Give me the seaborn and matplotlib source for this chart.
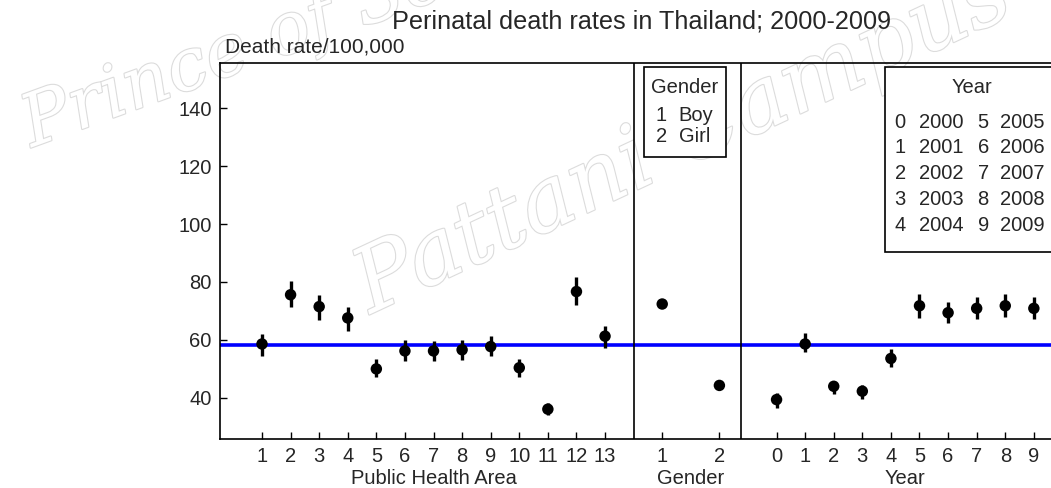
import numpy as np
import pandas as pd
import matplotlib.pyplot as plt
import seaborn as sns
import matplotlib.patheffects as pe
from matplotlib.patches import Rectangle

# estimates: rate with lower / upper bounds
area = list(range(1, 14))
area_rate = [58.6, 75.6, 71.5, 67.6, 50.0, 56.2, 56.2, 56.6, 57.7, 50.4, 36.1, 76.7, 61.3]
area_lo = [54.5, 71.2, 66.9, 63.2, 47.1, 52.8, 52.8, 53.2, 54.4, 47.1, 34.0, 72.2, 57.3]
area_hi = [62.0, 80.4, 75.6, 71.5, 53.4, 59.9, 59.5, 59.9, 61.4, 53.4, 38.3, 81.6, 64.7]

gender = [1, 2]
gender_names = ['Boy', 'Girl']
gender_rate = [72.4, 44.3]
gender_lo = [71.6, 43.5]
gender_hi = [73.2, 45.1]

year = list(range(10))
year_names = list(range(2000, 2010))
year_rate = [39.4, 58.6, 44.0, 42.3, 53.6, 71.8, 69.4, 70.9, 71.8, 70.9]
year_lo = [36.6, 55.9, 41.3, 39.7, 50.7, 67.7, 65.7, 67.1, 67.9, 67.1]
year_hi = [41.6, 62.5, 45.9, 44.3, 56.7, 75.7, 73.2, 74.7, 75.7, 74.7]

overall_rate = 58.4

# put the three factors side by side on one axis
area_pos = [a for a in area]
gender_pos = [13 + 2 * g for g in gender]
year_pos = [19 + y for y in year]

df = pd.concat([
    pd.DataFrame({'pos': area_pos, 'rate': area_rate, 'lo': area_lo, 'hi': area_hi, 'group': 'area'}),
    pd.DataFrame({'pos': gender_pos, 'rate': gender_rate, 'lo': gender_lo, 'hi': gender_hi, 'group': 'gender'}),
    pd.DataFrame({'pos': year_pos, 'rate': year_rate, 'lo': year_lo, 'hi': year_hi, 'group': 'year'}),
], ignore_index=True)

sns.set_style('white')
plt.rcParams['font.family'] = ['Liberation Sans', 'DejaVu Sans']

fs = 14.5
fig = plt.figure(figsize=(10.51, 4.88), dpi=100)
ax = fig.add_axes([0.2093, 0.1004, 0.7907, 0.7705])
ax.patch.set_alpha(0)
ax.set_zorder(2)

# faint watermark, kept behind the axes
wm = dict(color='white', family='DejaVu Serif', style='italic',
          zorder=1, path_effects=[pe.withStroke(linewidth=1.6, foreground='#dcdcdc')])
fig.text(0.012, 0.70, 'Prince of Songkla University', rotation=20, fontsize=52, **wm)
fig.text(0.325, 0.36, 'Pattani Campus', rotation=25, fontsize=64, **wm)

ax.axhline(overall_rate, color='#0000ff', lw=2.6, zorder=2)
ax.vlines(df['pos'], df['lo'], df['hi'], color='black', lw=2.4, zorder=3)
sns.scatterplot(data=df, x='pos', y='rate', color='black', s=68, edgecolor='none',
                ax=ax, zorder=4, legend=False)

ax.axvline(14.0, color='black', lw=1.2)
ax.axvline(17.75, color='black', lw=1.2)

ax.set_xlim(-0.47, 28.6)
ax.set_ylim(25.8, 155.6)
ax.set_yticks([40, 60, 80, 100, 120, 140])
ax.set_xticks(area_pos + gender_pos + year_pos)
ax.set_xticklabels([str(a) for a in area] + [str(g) for g in gender] + [str(y) for y in year])
ax.tick_params(axis='both', direction='in', length=5, width=1, color='black',
               labelsize=fs, bottom=True, left=True, pad=6)
ax.set_xlabel(None)
ax.set_ylabel(None)
for s in ['left', 'top', 'bottom']:
    ax.spines[s].set_color('black')
    ax.spines[s].set_linewidth(1.2)
ax.spines['right'].set_visible(False)

# group labels under each block
trans = ax.get_xaxis_transform()
for pos, name in [(area_pos, 'Public Health Area'), (gender_pos, 'Gender'), (year_pos, 'Year')]:
    ax.text(np.mean(pos), -0.104, name, transform=trans, ha='center', va='center', fontsize=fs)

fig.text(0.61, 0.955, 'Perinatal death rates in Thailand; 2000-2009', ha='center', va='center',
         fontsize=18.2, zorder=3)
fig.text(0.214, 0.903, 'Death rate/100,000', ha='left', va='center', fontsize=15, zorder=3)

# gender key
ax.add_patch(Rectangle((14.36, 123.0), 2.86, 31.2, facecolor='white',
                       edgecolor='black', lw=1.2, zorder=5))
ax.text(15.79, 147.3, 'Gender', ha='center', va='center', fontsize=fs, zorder=6)
for i, (g, n) in enumerate(zip(gender, gender_names)):
    yy = 137.6 - 7.3 * i
    ax.text(14.78, yy, str(g), ha='left', va='center', fontsize=fs, zorder=6)
    ax.text(15.58, yy, n, ha='left', va='center', fontsize=fs, zorder=6)

# year key
ax.add_patch(Rectangle((22.8, 90.2), 8.0, 64.0, facecolor='white',
                       edgecolor='black', lw=1.2, zorder=5))
ax.text(25.83, 147.3, 'Year', ha='center', va='center', fontsize=fs, zorder=6)
for i in range(5):
    yy = 135.2 - 8.93 * i
    ax.text(23.13, yy, str(year[i]), ha='left', va='center', fontsize=fs, zorder=6)
    ax.text(23.97, yy, str(year_names[i]), ha='left', va='center', fontsize=fs, zorder=6)
    ax.text(26.03, yy, str(year[i + 5]), ha='left', va='center', fontsize=fs, zorder=6)
    ax.text(26.80, yy, str(year_names[i + 5]), ha='left', va='center', fontsize=fs, zorder=6)

fig.savefig('out.png', dpi=100)
